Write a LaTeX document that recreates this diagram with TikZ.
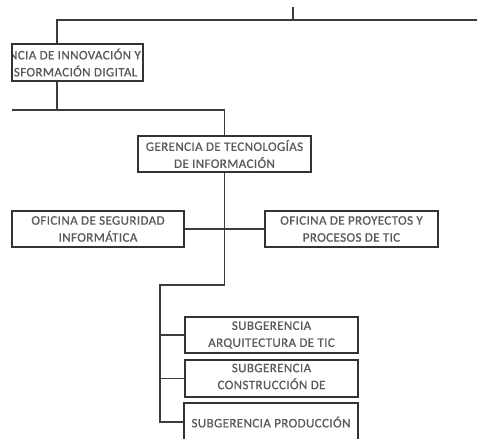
\documentclass[tikz,border=0pt]{standalone}
\usepackage{fontspec}
\setmainfont{Carlito}[LetterSpace=3,FakeBold=0.6]
\definecolor{linec}{HTML}{3C3C3C}
\definecolor{boxc}{HTML}{333333}
\definecolor{txtc}{HTML}{595959}
\tikzset{
  orgbox/.style={draw=boxc, line width=1.6pt, fill=white, inner sep=0pt, align=center,
    font=\fontsize{13}{17}\selectfont, text=txtc},
  conn/.style={draw=linec, line width=1.2pt},
  lbl/.style={inner sep=0pt, align=center, font=\fontsize{13}{17}\selectfont, text=txtc}
}
\begin{document}
\begin{tikzpicture}[x=1pt,y=-1pt]
\useasboundingbox (0,0) rectangle (477,439);
% boxes
\node[orgbox, minimum width=131pt, minimum height=37pt] (b1) at (77.5,62.5) {};
\node[orgbox, minimum width=173pt, minimum height=36pt] (b2) at (224.5,154) {GERENCIA DE TECNOLOGÍAS\\DE INFORMACIÓN};
\node[orgbox, minimum width=172pt, minimum height=36pt] (b3) at (98,229) {OFICINA DE SEGURIDAD\\INFORMÁTICA};
\node[orgbox, minimum width=173pt, minimum height=36pt] (b4) at (351.5,229) {OFICINA DE PROYECTOS Y\\PROCESOS DE TIC};
\node[orgbox, minimum width=173pt, minimum height=36pt] (b5) at (271.5,335) {SUBGERENCIA\\ARQUITECTURA DE TIC};
\node[orgbox, minimum width=173pt, minimum height=37pt] (b6) at (271.5,378.5) {};
\node[lbl] (t6) at (271.5,376.5) {SUBGERENCIA\\CONSTRUCCIÓN DE};
\node[orgbox, minimum width=174pt, minimum height=38pt] (b7) at (271,422) {SUBGERENCIA PRODUCCIÓN};
% clipped text of box 1
\begin{scope}
  \clip (13,45) rectangle (142,80);
  \node[lbl, anchor=east] (t1) at (141,62.5) {GERENCIA DE INNOVACIÓN Y\\TRANSFORMACIÓN DIGITAL};
\end{scope}
% junctions
\coordinate (t0) at (293,7);
\coordinate (j1) at (57,20);
\coordinate (tr) at (477,20);
\coordinate (j2) at (57,110);
\coordinate (j2l) at (12,110);
\coordinate (j3) at (224.5,285);
\coordinate (j4) at (160,285);
\coordinate (j5) at (160,422);
% connectors
\draw[conn] (t0) |- (j1) -- (b1.north -| j1);
\draw[conn] (j1) -- (tr);
\draw[conn] (b1.south -| j2) -- (j2);
\draw[conn] (j2l) -| (b2.north);
\draw[conn] (b2.south) -- (j3) -- (j4) -- (j5) -- (b7.west);
\draw[conn] (b3.east) -- (b4.west);
\draw[conn] (b5.west -| j4) -- (b5.west);
\draw[conn] (b6.west -| j4) -- (b6.west);
\end{tikzpicture}
\end{document}
